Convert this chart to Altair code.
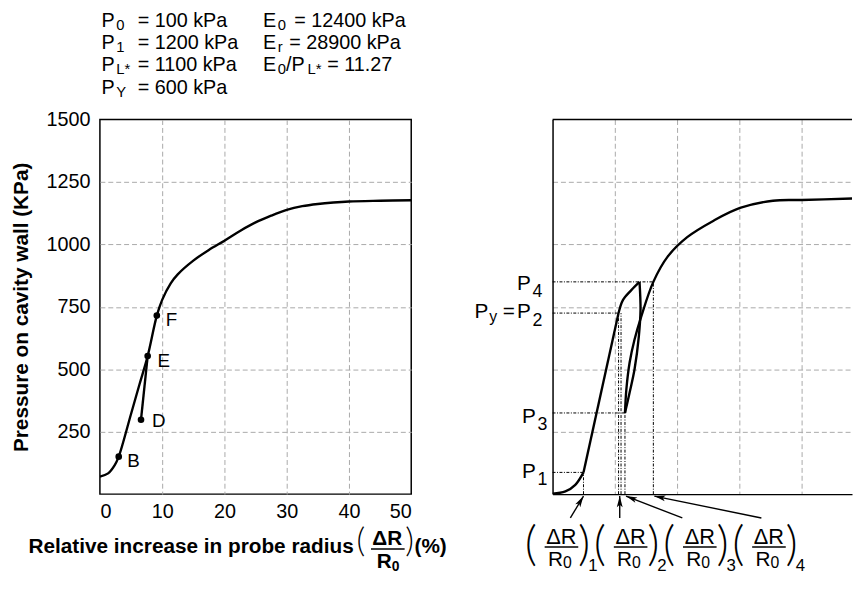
import math
import altair as alt
import pandas as pd

FONT = "Liberation Sans"
PAREN_FONT = "Lato"
H = 379
YMAX = 1500
PX_X = 6.3               # pixels per % of radius increase (both panels)
PX_Y = H / YMAX          # pixels per kPa
L_XMAX, R_XMAX = 50, 48.1   # the right panel runs off the page edge in the original

# ---------------- data: left panel (pressuremeter test curve) ----------------
left_main_x = [0, 1.32, 2.38, 3.02, 5.02, 6.35, 7.67, 9.14, 10, 11.37, 12.5, 15, 17.5, 20,
               22.5, 25, 27.5, 30, 32.5, 35, 37.5, 40, 45, 50]
left_main_p = [70, 83, 116, 150, 323, 439, 553, 715, 778, 844, 880, 935, 978, 1015,
               1054, 1088, 1115, 1138, 1153, 1162, 1168, 1172, 1175, 1177]
left_de_x = [6.6, 7.67]
left_de_p = [298, 553]

pt_names = ["B", "D", "E", "F"]
pt_x = [3.02, 6.6, 7.67, 9.14]
pt_p = [150, 298, 553, 715]

# ---------------- data: right panel (unload-reload loop) ----------------
r_toe_x = [0, 2.06, 3.65, 4.97]
r_toe_p = [2, 10.6, 37, 87]
r_lin_x = [4.97, 10.6]
r_lin_p = [87, 725]
r_knee_x = [10.6, 11.32, 12.65, 13.97]
r_knee_p = [725, 778, 817, 850]
r_unl_x = [13.97, 14.13, 13.86, 13.17, 12.38, 11.63]
r_unl_p = [850, 738, 632, 500, 407, 325]
r_rel_x = [11.63, 11.86, 12.38, 13.17, 14.24, 16.19, 18.46, 21.63, 25.87, 30.11, 35.4, 40.05, 48.1]
r_rel_p = [325, 421, 527, 619, 711, 850, 950, 1029, 1095, 1146, 1175, 1178, 1184]

# characteristic pressures / strains on the right panel
lvl_names = ["1", "2", "3", "4"]
lvl_x = [4.97, 10.6, 11.63, 16.19]
lvl_p = [87, 725, 325, 850]
extra_vx = 11.0   # second dotted drop line near (ΔR/R0)2

# parameter text block
params_left = [("0", "= 100 kPa"), ("1", "= 1200 kPa"), ("L*", "= 1100 kPa"), ("Y", " = 600 kPa")]
params_right_rows = [("0", "= 12400 kPa"), ("r", "= 28900 kPa")]
ratio_value = "= 11.27"

x_ticks = [0, 10, 20, 30, 40, 50]
y_ticks = [250, 500, 750, 1000, 1250, 1500]

ys = alt.Scale(domain=[0, YMAX], nice=False, zero=False)


def dx(px):
    return px / PX_X


def dy(px):
    return px / PX_Y


def curve(segs):
    rows = []
    i = 0
    for name, xv, pv in segs:
        for a, b in zip(xv, pv):
            rows.append({"seg": name, "i": i, "x": a, "p": b})
            i += 1
    return pd.DataFrame(rows)


def grid_op(hidden):
    test = " || ".join(f"datum.value == {h}" for h in hidden)
    return alt.condition(test, alt.value(0), alt.value(1))


GRID = dict(ticks=False, grid=True, gridDash=[5, 3], gridColor="#a9a9a9", gridWidth=1)


class Panel:
    def __init__(self, labels, xmax):
        self.xmax = xmax
        self.width = round(xmax * PX_X)
        self.xs = alt.Scale(domain=[0, xmax], nice=False, zero=False)
        if labels:
            self.ax = alt.Axis(values=x_ticks, title=None, domain=False,
                               gridOpacity=grid_op([0, 50]), labelFont=FONT, labelFontSize=20,
                               labelColor="black", labelPadding=8, **GRID)
            self.ay = alt.Axis(values=y_ticks, format="d", domain=False,
                               gridOpacity=grid_op([0, 1500]),
                               title="Pressure on cavity wall (KPa)", titleFont=FONT,
                               titleFontSize=21, titleFontWeight="bold", titleColor="black",
                               titlePadding=15, labelFont=FONT, labelFontSize=20,
                               labelColor="black", labelPadding=10, **GRID)
        else:
            self.ax = alt.Axis(values=x_ticks[:-1], title=None, labels=False, domain=True,
                               domainColor="black", domainWidth=1.5,
                               gridOpacity=grid_op([0]), **GRID)
            self.ay = alt.Axis(values=y_ticks, title=None, labels=False, domain=True,
                               domainColor="black", domainWidth=1.5,
                               gridOpacity=grid_op([0, 1500]), **GRID)
        self.layers = []

    def X(self, f):
        return alt.X(f, scale=self.xs, axis=self.ax)

    def Y(self, f):
        return alt.Y(f, scale=ys, axis=self.ay)

    def line(self, df):
        self.layers.append(alt.Chart(df).mark_line(
            color="black", strokeWidth=2.4, interpolate="catmull-rom", clip=True).encode(
            x=self.X("x:Q"), y=self.Y("p:Q"), detail="seg:N", order="i:Q"))

    def text(self, rows, align, weight="normal", font=FONT):
        df = pd.DataFrame(rows, columns=["t", "x", "p", "s"])
        self.layers.append(alt.Chart(df).mark_text(
            align=align, baseline="alphabetic", font=font, fontWeight=weight, color="black").encode(
            x=self.X("x:Q"), y=self.Y("p:Q"), text="t:N",
            size=alt.Size("s:Q", scale=None, legend=None)))

    def rules(self, rows, width=1.5, dash=None):
        df = pd.DataFrame(rows, columns=["x", "x2", "p", "p2"])
        kw = dict(color="black", strokeWidth=width)
        if dash:
            kw["strokeDash"] = dash
        self.layers.append(alt.Chart(df).mark_rule(**kw).encode(
            x=self.X("x:Q"), x2="x2:Q", y=self.Y("p:Q"), y2="p2:Q"))

    def chart(self, **props):
        return alt.layer(*self.layers).properties(width=self.width, height=H, **props)


# ---------------- left panel ----------------
L = Panel(True, L_XMAX)
L.line(curve([("main", left_main_x, left_main_p), ("de", left_de_x, left_de_p)]))

pts_df = pd.DataFrame({"name": pt_names, "x": pt_x, "p": pt_p})
L.layers.append(alt.Chart(pts_df).mark_circle(color="black", size=45, opacity=1).encode(
    x=L.X("x:Q"), y=L.Y("p:Q")))
label_off = [(8.6, 10), (11, 7.3), (10, 10.6), (9, 11)]
L.text([(n, x + dx(ox), p - dy(oy), 19)
        for n, x, p, (ox, oy) in zip(pt_names, pt_x, pt_p, label_off)], "left")

# parameter block above the left plot
row_base = [1871, 1783, 1694, 1604]
sub_drop = dy(3)
blk = []
for k, (sub, rest) in enumerate(params_left):
    blk.append(("P", 0.25, row_base[k], 20))
    blk.append((sub, 2.64, row_base[k] - sub_drop, 15))
    blk.append((rest, 6.08, row_base[k], 20))
right_eq_x = [31.21, 30.41]
for k, (sub, rest) in enumerate(params_right_rows):
    blk.append(("E", 26.19, row_base[k], 20))
    blk.append((sub, 28.57, row_base[k] - sub_drop, 15))
    blk.append((rest, right_eq_x[k], row_base[k], 20))
blk += [("E", 26.19, row_base[2], 20), ("0", 28.57, row_base[2] - sub_drop, 15),
        ("/P", 29.89, row_base[2], 20), ("L*", 33.33, row_base[2] - sub_drop, 15),
        (ratio_value, 36.5, row_base[2], 20)]
L.text(blk, "left")

# x-axis title with the ΔR/R0 fraction (left panel), raised slightly to fit the page
up = dy(6)
xt_base = -260.7 + up
L.text([("Relative increase in probe radius", 40.76, xt_base, 21)], "right", "bold")
L.text([("(%)", 50.52, xt_base, 21), ("0", 46.87, -333 + up, 14)], "left", "bold")
L.text([("ΔR", 46.16, -227.4 + up, 21)], "center", "bold")
L.text([("R", 46.87, -320 + up, 21)], "right", "bold")
L.text([("(", 41.89, -256 + up, 34), (")", 49.73, -256 + up, 34)], "center", 300, PAREN_FONT)
L.rules([(43.54, 48.94, -243.2 + up, -243.2 + up)], 1.6)
left = L.chart()

# ---------------- right panel ----------------
R = Panel(False, R_XMAX)
R.line(curve([("toe", r_toe_x, r_toe_p), ("lin", r_lin_x, r_lin_p), ("knee", r_knee_x, r_knee_p),
              ("unl", r_unl_x, r_unl_p), ("rel", r_rel_x, r_rel_p)]))
R.rules([(0, R_XMAX, YMAX, YMAX)], 1.5)   # top edge of the frame

guides = [(0, x, p, p) for x, p in zip(lvl_x, lvl_p)]
guides += [(x, x, 0, p) for x, p in zip(lvl_x, lvl_p)]
guides.append((extra_vx, extra_vx, 0, lvl_p[1]))
R.rules(guides, 1, [3, 1.5, 1, 1.5])

# pressure labels on the left of the right panel
R.text([("P", -3.49, 817.4, 21), ("P", -3.49, 705.1, 21),
        ("P", -2.70, 284.5, 21), ("P", -2.70, 63.5, 21)], "right")
R.text([("4", -3.22, 817.4 - dy(7), 18), ("2", -3.22, 705.1 - dy(8), 18),
        ("3", -2.43, 284.5 - dy(7), 18), ("1", -2.43, 63.5 - dy(7), 18),
        ("P", -12.54, 705.1, 21), ("y", -10.16, 705.1 - dy(4), 16),
        ("=", -7.98, 705.1, 21)], "left")

# (ΔR/R0)n labels under the right panel (raised a little so they fit on the page)
lift = dy(18)
frac_cx = [1.43, 12.54, 23.65, 34.76]
fr_c, fr_r, fr_l, fr_par, fr_bar = [], [], [], [], []
for n, cx in zip(lvl_names, frac_cx):
    fr_c.append(("ΔR", cx, -271 + lift, 22))
    fr_r.append(("R", cx + dx(1.5), -360 + lift, 21))
    fr_l.append(("0", cx + dx(1.5), -369 + lift, 16))
    fr_l.append((n, cx + dx(27), -381 + lift, 17))
    fr_par.append(("(", cx - dx(31), -337 + lift, 48))
    fr_par.append((")", cx + dx(23), -337 + lift, 48))
    fr_bar.append((cx - dx(17), cx + dx(17), -283 + lift, -283 + lift))
R.text(fr_c, "center")
R.text(fr_r, "right")
R.text(fr_l, "left")
R.text(fr_par, "center", 300, PAREN_FONT)
R.rules(fr_bar, 1.4)

# arrows from the labels to the strain axis
arr_start = [(2.86, -166.7 + lift), (10.79, -166.7 + lift), (20.84, -166.7 + lift), (33.54, -166.7 + lift)]
arr_end = [(4.97, -8), (10.79, -8), (11.8, -8), (16.35, -8)]
R.rules([(s[0], e[0], s[1], e[1]) for s, e in zip(arr_start, arr_end)], 1.4)
heads = []
for s, e in zip(arr_start, arr_end):
    vx = (e[0] - s[0]) * PX_X
    vy = -(e[1] - s[1]) * PX_Y
    ang = math.degrees(math.atan2(vx, -vy)) % 360
    heads.append({"x": e[0], "p": e[1], "a": ang})
R.layers.append(alt.Chart(pd.DataFrame(heads)).mark_point(
    shape="M0,0 L0.38,1.45 L0,1.12 L-0.38,1.45 Z", filled=True, color="black",
    opacity=1, strokeWidth=0, size=240).encode(
    x=R.X("x:Q"), y=R.Y("p:Q"), angle=alt.Angle("a:Q", scale=None)))
right = R.chart(view=alt.ViewBackground(strokeOpacity=0))

chart = alt.hconcat(left, right, spacing=27).configure_view(
    stroke="black", strokeWidth=1.5).properties(
    padding={"left": 1, "top": -1.5, "right": 0, "bottom": 0})

chart.save("out.html", embed_options={"renderer": "svg", "actions": False})
